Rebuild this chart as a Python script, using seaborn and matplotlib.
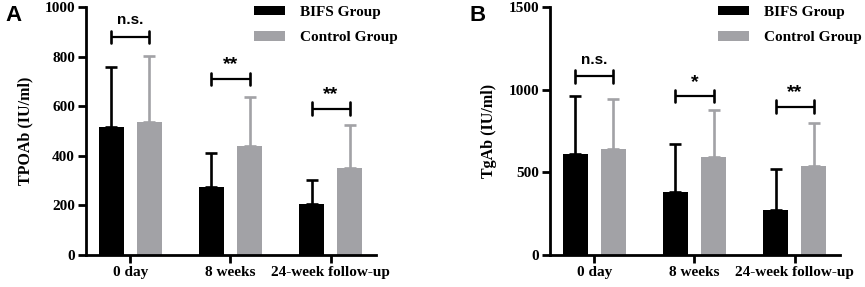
import matplotlib
matplotlib.use("Agg")
import matplotlib.pyplot as plt
from matplotlib.patches import Patch
import seaborn as sns
import pandas as pd

# ---- data ----
timepoints = ["0 day", "8 weeks", "24-week follow-up"]
groups = ["BIFS Group", "Control Group"]

tpo_bifs = [518, 275, 205]
tpo_bifs_sd = [242, 135, 97]
tpo_ctrl = [538, 441, 351]
tpo_ctrl_sd = [266, 196, 172]
tpo_sig_y = [880, 710, 590]
tpo_sig_txt = ["n.s.", "**", "**"]

tg_bifs = [610, 383, 272]
tg_bifs_sd = [353, 287, 247]
tg_ctrl = [640, 595, 539]
tg_ctrl_sd = [305, 285, 259]
tg_sig_y = [1080, 960, 898]
tg_sig_txt = ["n.s.", "*", "**"]

BLACK = "#000000"
GRAY = "#a2a2a6"
SERIF = ["Liberation Serif", "DejaVu Serif"]
SANS = ["Liberation Sans", "DejaVu Sans"]

sns.set_style("ticks")
plt.rcParams["font.family"] = SERIF
plt.rcParams["font.weight"] = "bold"
plt.rcParams["text.color"] = "black"
plt.rcParams["axes.labelcolor"] = "black"
plt.rcParams["xtick.color"] = "black"
plt.rcParams["ytick.color"] = "black"
plt.rcParams["axes.edgecolor"] = "black"

fig = plt.figure(figsize=(8.65, 2.87), dpi=100)
axA = fig.add_axes([86 / 865, 32 / 287, 290 / 865, 248 / 287])
axB = fig.add_axes([550 / 865, 32 / 287, 290 / 865, 248 / 287])


def panel(ax, bifs, bifs_sd, ctrl, ctrl_sd, sig_y, sig_txt, ymax, ystep, ylabel, tick_h):
    df = pd.DataFrame({
        "time": timepoints * 2,
        "group": [groups[0]] * 3 + [groups[1]] * 3,
        "value": bifs + ctrl,
    })
    sns.barplot(data=df, x="time", y="value", hue="group", order=timepoints,
                hue_order=groups, palette=[BLACK, GRAY], errorbar=None,
                width=0.76, gap=0.34, legend=False, ax=ax, saturation=1,
                edgecolor="none")
    centers = []
    for cont, sd, vals, col in zip(ax.containers, [bifs_sd, ctrl_sd], [bifs, ctrl], [BLACK, GRAY]):
        xs = [b.get_x() + b.get_width() / 2 for b in cont]
        centers.append(xs)
        ax.errorbar(xs, vals, yerr=[[0] * len(sd), sd], fmt="none", ecolor=col,
                    elinewidth=1.9, capsize=4, capthick=1.9, zorder=3)
    for i in range(len(timepoints)):
        x0, x1 = centers[0][i], centers[1][i]
        y = sig_y[i]
        ax.plot([x0, x1], [y, y], color="black", lw=1.6, solid_capstyle="butt")
        ax.plot([x0, x0], [y - tick_h, y + tick_h], color="black", lw=1.9)
        ax.plot([x1, x1], [y - tick_h, y + tick_h], color="black", lw=1.9)
        txt = sig_txt[i]
        star = "*" in txt
        ax.text((x0 + x1) / 2, y + tick_h * (0.9 if star else 1.5), txt,
                ha="center", va="bottom", fontsize=14 if star else 11,
                fontweight="bold", family=SANS, color="black")
    ax.set_xlim(-0.44, 2.45)
    ax.set_ylim(0, ymax)
    ax.set_yticks(range(0, ymax + 1, ystep))
    ax.set_xlabel("")
    ax.set_ylabel(ylabel, fontsize=11.5, fontweight="bold", labelpad=8, color="black")
    sns.despine(ax=ax)
    for s in ["left", "bottom"]:
        ax.spines[s].set_linewidth(2)
        ax.spines[s].set_color("black")
    ax.tick_params(axis="both", width=2, length=6, labelsize=11, pad=2, colors="black")
    for lab in ax.get_xticklabels() + ax.get_yticklabels():
        lab.set_fontweight("bold")
    handles = [Patch(facecolor=BLACK, edgecolor="none"), Patch(facecolor=GRAY, edgecolor="none")]
    ax.legend(handles, groups, loc="upper left", bbox_to_anchor=(0.58, 1.003),
              frameon=False, handlelength=2.0, handleheight=0.55,
              handletextpad=1.0, labelspacing=0.8, borderpad=0, borderaxespad=0,
              prop={"weight": "bold", "size": 11, "family": SERIF})


panel(axA, tpo_bifs, tpo_bifs_sd, tpo_ctrl, tpo_ctrl_sd, tpo_sig_y, tpo_sig_txt,
      1000, 200, "TPOAb (IU/ml)", 25)
panel(axB, tg_bifs, tg_bifs_sd, tg_ctrl, tg_ctrl_sd, tg_sig_y, tg_sig_txt,
      1500, 500, "TgAb (IU/ml)", 37)

fig.text(5 / 865, 1 - 21 / 287, "A", fontsize=16, fontweight="bold", family=SANS)
fig.text(470 / 865, 1 - 21 / 287, "B", fontsize=16, fontweight="bold", family=SANS)

fig.savefig("out.png", dpi=100)
